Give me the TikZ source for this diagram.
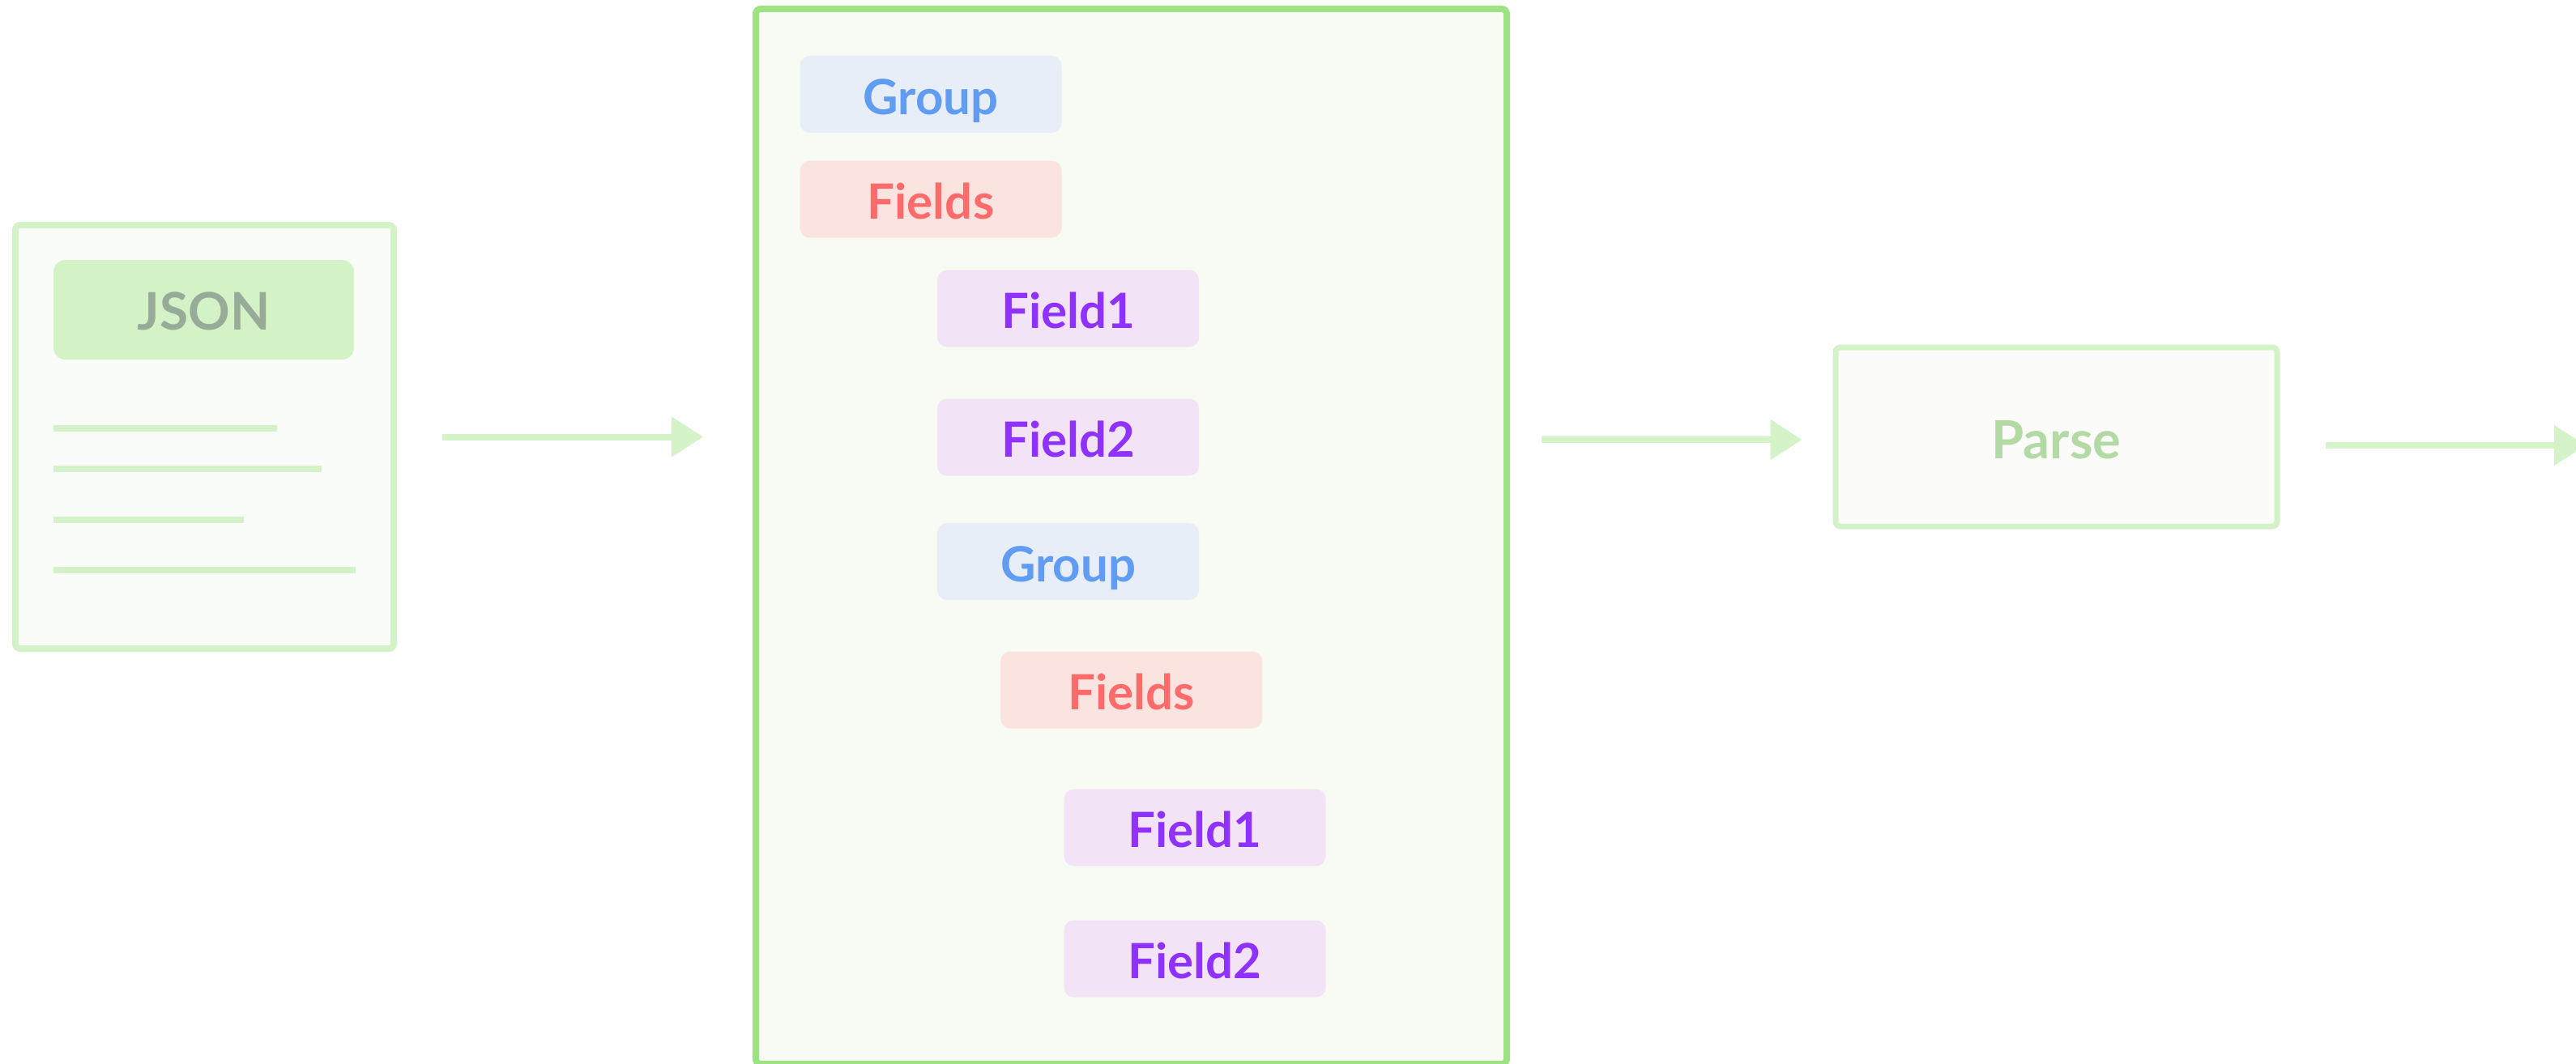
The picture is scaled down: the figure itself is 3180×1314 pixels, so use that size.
\documentclass[tikz,border=0pt]{standalone}
\usepackage{fontspec}
\setmainfont{Lato}
\usetikzlibrary{arrows.meta}
\definecolor{docline}{HTML}{D4F2C8}
\definecolor{docfill}{HTML}{FAFCF9}
\definecolor{jsonfill}{HTML}{D3F2C6}
\definecolor{jsontext}{HTML}{98AB98}
\definecolor{bigstroke}{HTML}{9DE283}
\definecolor{bigfill}{HTML}{F8FBF3}
\definecolor{grpfill}{HTML}{E8EEF8}
\definecolor{grptext}{HTML}{5F9CF2}
\definecolor{fldsfill}{HTML}{FBE3DF}
\definecolor{fldstext}{HTML}{FF6B6B}
\definecolor{fieldfill}{HTML}{F2E3F6}
\definecolor{fieldtext}{HTML}{8F32FF}
\definecolor{parsefill}{HTML}{FBFCFA}
\definecolor{parsetext}{HTML}{B3D9A5}
\definecolor{arrowcol}{HTML}{D5F3C9}
\begin{document}
\begin{tikzpicture}[x=1pt,y=-1pt,
  pill/.style={rectangle, rounded corners=12pt, minimum width=323pt, minimum height=95pt,
    inner sep=0pt, font=\fontsize{60}{72}\selectfont\bfseries, text height=49pt, text depth=0pt},
  grp/.style={pill, fill=grpfill, text=grptext},
  flds/.style={pill, fill=fldsfill, text=fldstext},
  fld/.style={pill, fill=fieldfill, text=fieldtext},
  docline/.style={draw=docline, line width=8pt},
  arr/.style={draw=arrowcol, line width=8pt, -{Triangle[length=39pt,width=48pt]}}
]
\useasboundingbox[fill=white] (0,0) rectangle (3180,1314);

% JSON document
\node[draw=docline, fill=docfill, line width=8pt, rounded corners=6pt,
  minimum width=467pt, minimum height=523pt, inner sep=0pt] (doc) at (252.5,539.5) {};
\node[fill=jsonfill, rounded corners=15pt, minimum width=371pt, minimum height=123pt,
  inner sep=0pt, text=jsontext, font=\fontsize{64}{78}\selectfont\bfseries,
  text height=50pt, text depth=0pt] (json) at (251.5,382.5) {JSON};
\coordinate (l1a) at (66,528.5); \coordinate (l1b) at (342,528.5);
\coordinate (l2a) at (66,579);   \coordinate (l2b) at (397,579);
\coordinate (l3a) at (66,642);   \coordinate (l3b) at (301,642);
\coordinate (l4a) at (66,704);   \coordinate (l4b) at (439,704);
\draw[docline] (l1a) -- (l1b);
\draw[docline] (l2a) -- (l2b);
\draw[docline] (l3a) -- (l3b);
\draw[docline] (l4a) -- (l4b);

% big structure box
\node[draw=bigstroke, fill=bigfill, line width=8pt, rounded corners=6pt,
  minimum width=927pt, minimum height=1303pt, inner sep=0pt] (big) at (1396.5,662.5) {};
\node[grp]  (g1)  at (1149,116.5)  {Group};
\node[flds] (fs1) at (1149,246)    {Fields};
\node[fld]  (f1)  at (1318.5,381)  {Field1};
\node[fld]  (f2)  at (1318.5,540)  {Field2};
\node[grp]  (g2)  at (1318.5,693.5){Group};
\node[flds] (fs2) at (1396.5,852)  {Fields};
\node[fld]  (f3)  at (1475,1022)   {Field1};
\node[fld]  (f4)  at (1475,1184)   {Field2};

% Parse box
\node[draw=docline, fill=parsefill, line width=7pt, rounded corners=6pt,
  minimum width=545pt, minimum height=221pt, inner sep=0pt, text=parsetext,
  font=\fontsize{65}{80}\selectfont\bfseries, text height=54pt, text depth=0pt] (parse) at (2538.5,539.5) {Parse};

\coordinate (out) at (3192,550);

% arrows
\draw[arr, shorten <=56pt, shorten >=61pt] (doc.east) -- (big.west |- doc.east);
\draw[arr, shorten <=39pt, shorten >=38pt] (big.east |- 0,543) -- (parse.west |- 0,543);
\draw[arr, shorten <=56pt] (parse.east |- 0,550) -- (out);
\end{tikzpicture}
\end{document}
